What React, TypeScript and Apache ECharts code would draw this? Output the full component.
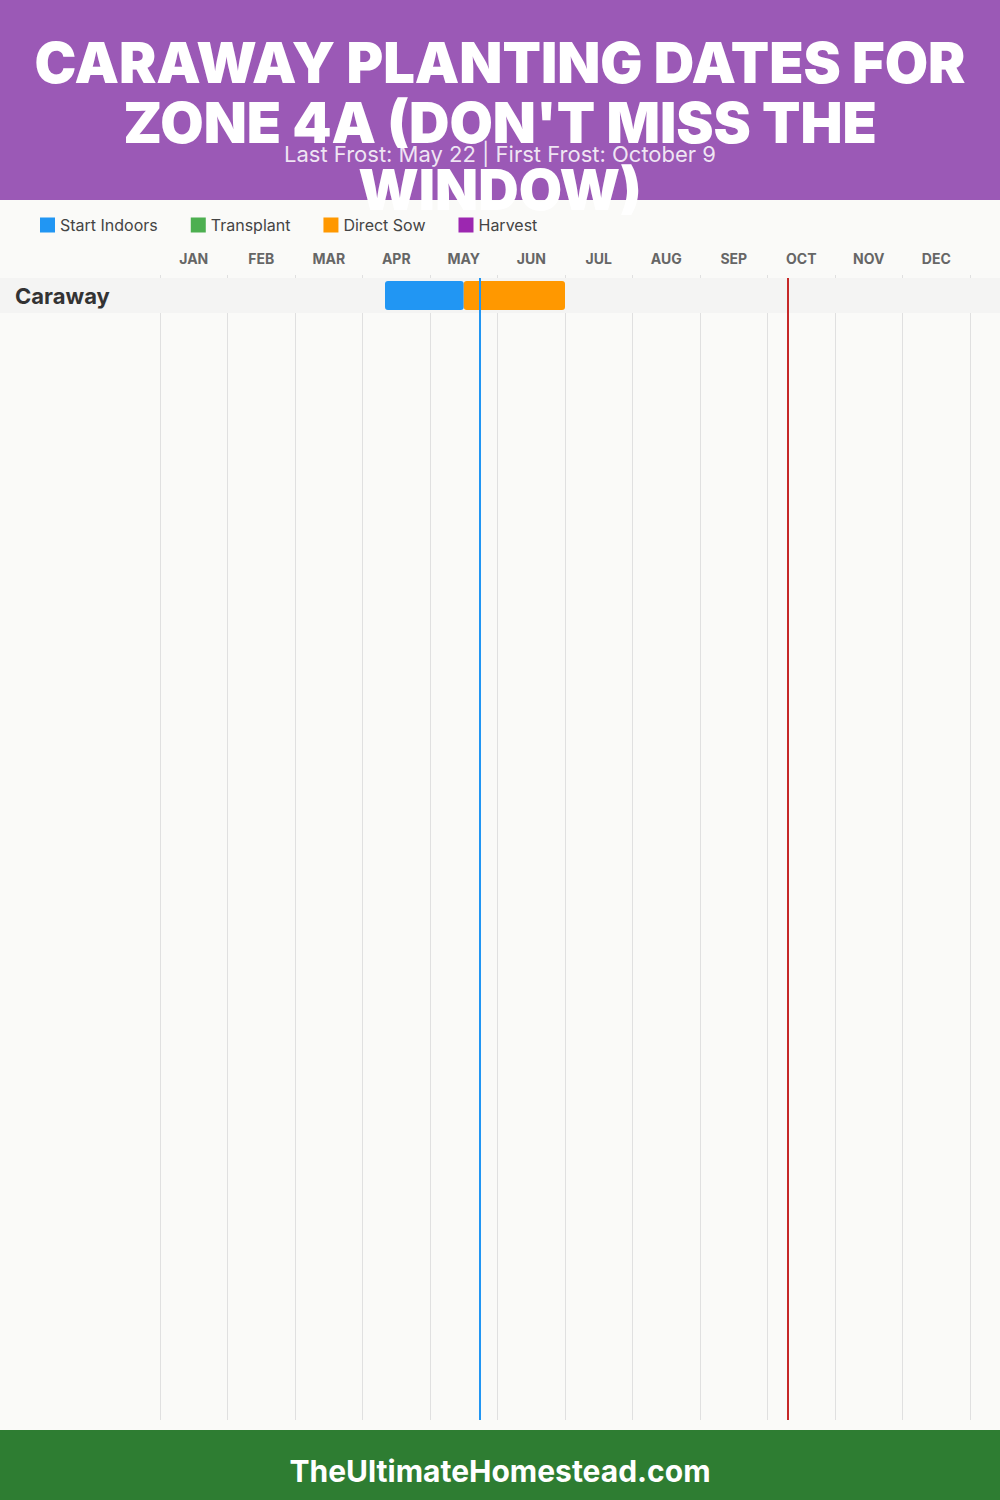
import React, { useEffect, useRef } from "react";
import * as echarts from "echarts";

// Month columns (x axis: 0 = Jan 1, 12 = end of Dec; position = month + day/30)
const months = ["JAN", "FEB", "MAR", "APR", "MAY", "JUN", "JUL", "AUG", "SEP", "OCT", "NOV", "DEC"];
const crops = ["Caraway"];
// [start, end, rowIndex]
const startIndoors: number[][] = [[3 + 10 / 30, 4 + 15 / 30, 0]]; // Apr 10 – May 15
const transplant: number[][] = [];
const directSow: number[][] = [[4 + 15 / 30, 6, 0]]; // May 15 – Jun 30
const harvest: number[][] = [];
const lastFrost = 4 + 22 / 30; // May 22
const firstFrost = 9 + 9 / 30; // October 9

const titleLines = ["CARAWAY PLANTING DATES FOR", "ZONE 4A (DON'T MISS THE", "WINDOW)"];
const subtitle = "Last Frost: May 22 | First Frost: October 9";
const footer = "TheUltimateHomestead.com";

const stageColors = {
  "Start Indoors": "#2196f3",
  Transplant: "#4caf50",
  "Direct Sow": "#ff9800",
  Harvest: "#9c27b0",
};

const ROW_PX = 35;
const GRID_TOP = 278;
const GRID_BOTTOM = 80;
const GRID_H = 1500 - GRID_TOP - GRID_BOTTOM;

function barSeries(name: string, data: number[][]) {
  const color = (stageColors as any)[name];
  return {
    type: "custom",
    name,
    xAxisIndex: 0,
    yAxisIndex: 0,
    itemStyle: { color },
    z: 3,
    data,
    renderItem: (params: any, api: any) => {
      const s = api.coord([api.value(0), api.value(2)]);
      const e = api.coord([api.value(1), api.value(2)]);
      const rowH = api.size([0, 1])[1];
      return {
        type: "rect",
        shape: { x: s[0], y: s[1] + (rowH * 3) / 35, width: e[0] - s[0], height: (rowH * 29) / 35, r: 3 },
        style: { fill: color },
      };
    },
  };
}

export default function App() {
  const ref = useRef<HTMLDivElement>(null);
  useEffect(() => {
    document.body.style.margin = "0";
    const chart = echarts.init(ref.current!, null, { renderer: "svg" });
    const font = "Inter, 'Open Sans', sans-serif";
    const option: any = {
      animation: false,
      backgroundColor: "#fafaf8",
      textStyle: { fontFamily: font },
      graphic: [
        { type: "rect", shape: { x: 0, y: 0, width: 1000, height: 200 }, style: { fill: "#9b59b6" }, z: -10 },
        {
          type: "text",
          x: 500,
          y: 154,
          style: {
            text: subtitle,
            fill: "rgba(255,255,255,0.85)",
            fontSize: 22,
            fontFamily: font,
            align: "center",
            verticalAlign: "middle",
            textAlign: "center",
            textVerticalAlign: "middle",
          },
          z: 1,
        },
        ...titleLines.map((t, i) => ({
          type: "text",
          x: 500,
          y: [63, 123, 190][i],
          style: {
            text: t,
            fill: "#ffffff",
            fontSize: 56,
            fontWeight: 900,
            fontFamily: font,
            align: "center",
            verticalAlign: "middle",
            textAlign: "center",
            textVerticalAlign: "middle",
          },
          z: 2,
        })),
        { type: "rect", shape: { x: 0, y: 1430, width: 1000, height: 70 }, style: { fill: "#2e7d32" }, z: 1 },
        {
          type: "text",
          x: 500,
          y: 1471,
          style: {
            text: footer,
            fill: "#ffffff",
            fontSize: 30,
            fontWeight: "bold",
            fontFamily: font,
            align: "center",
            verticalAlign: "middle",
            textAlign: "center",
            textVerticalAlign: "middle",
          },
          z: 2,
        },
      ],
      legend: {
        data: ["Start Indoors", "Transplant", "Direct Sow", "Harvest"],
        left: 40,
        top: 217,
        padding: 0,
        icon: "rect",
        itemWidth: 15,
        itemHeight: 15,
        itemGap: 33,
        selectedMode: false,
        textStyle: { fontSize: 16, color: "#444", fontFamily: font },
      },
      grid: { left: 160, right: 30, top: GRID_TOP, bottom: GRID_BOTTOM },
      xAxis: [
        {
          type: "value",
          min: 0,
          max: 12,
          interval: 1,
          axisLabel: { show: false },
          axisTick: { show: false },
          axisLine: { show: false },
          splitLine: { show: true, lineStyle: { color: "#e0e0e0", width: 1 } },
        },
        {
          type: "category",
          data: months,
          position: "top",
          boundaryGap: true,
          axisLine: { show: false },
          axisTick: { show: true, length: 3, lineStyle: { color: "#e0e0e0" } },
          axisLabel: { fontSize: 14, fontWeight: "bold", color: "#666", margin: 13, fontFamily: font },
          splitLine: { show: false },
        },
      ],
      yAxis: {
        type: "value",
        inverse: true,
        min: 0,
        max: GRID_H / ROW_PX,
        show: false,
        splitLine: { show: false },
      },
      series: [
        {
          type: "custom",
          name: "rows",
          xAxisIndex: 0,
          yAxisIndex: 0,
          clip: false,
          z: 2,
          silent: true,
          data: crops.map((c, i) => [i]),
          renderItem: (params: any, api: any) => {
            const y = api.coord([0, api.value(0)])[1];
            const h = api.size([0, 1])[1];
            return {
              type: "group",
              children: [
                { type: "rect", shape: { x: 0, y, width: api.getWidth(), height: h }, style: { fill: "#f4f4f3" } },
                {
                  type: "text",
                  x: 15,
                  y: y + h / 2,
                  style: {
                    text: crops[params.dataIndex],
                    fill: "#333",
                    fontSize: 22,
                    fontWeight: "bold",
                    fontFamily: font,
                    align: "left",
                    verticalAlign: "middle",
                  },
                },
              ],
            };
          },
        },
        barSeries("Start Indoors", startIndoors),
        barSeries("Transplant", transplant),
        barSeries("Direct Sow", directSow),
        barSeries("Harvest", harvest),
        {
          type: "line",
          name: "frost",
          data: [],
          xAxisIndex: 0,
          yAxisIndex: 0,
          z: 5,
          markLine: {
            silent: true,
            symbol: ["none", "none"],
            label: { show: false },
            data: [
              { xAxis: lastFrost, lineStyle: { color: "#2196f3", width: 2, type: "solid" } },
              { xAxis: firstFrost, lineStyle: { color: "#c62828", width: 2, type: "solid" } },
            ],
          },
        },
      ],
    };
    chart.setOption(option);
    return () => chart.dispose();
  }, []);
  return <div ref={ref} style={{ width: 1000, height: 1500 }} />;
}
